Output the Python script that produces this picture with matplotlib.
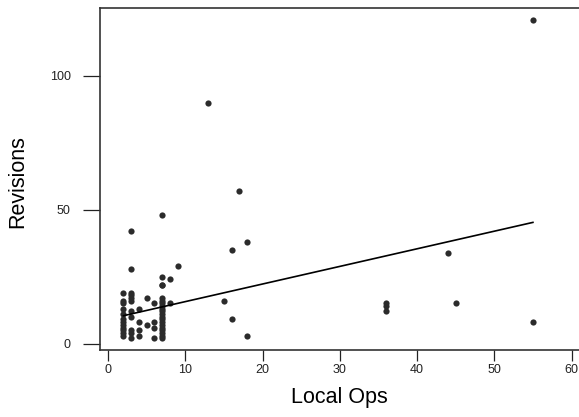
import numpy as np
import matplotlib
matplotlib.use('Agg')
import matplotlib.pyplot as plt

plt.rcParams['font.family'] = ['Liberation Sans', 'DejaVu Sans']

# local ops (x) and revisions (y)
local_ops = [2, 2, 2, 2, 2, 2, 2, 2, 2, 2, 2, 2,
             3, 3, 3, 3, 3, 3, 3, 3, 3, 3, 3,
             4, 4, 4, 4,
             5, 5,
             6, 6, 6, 6,
             7, 7, 7, 7, 7, 7, 7, 7, 7, 7, 7, 7, 7, 7, 7, 7, 7, 7, 7, 7,
             8, 8, 9,
             13, 15, 16, 16, 17, 18, 18,
             36, 36, 36, 44, 45, 55, 55]
revisions = [3, 4, 5, 6, 7, 8, 9, 11, 13, 15, 16, 19,
             2, 4, 5, 10, 12, 16, 17, 18, 19, 28, 42,
             3, 5, 8, 13,
             7, 17,
             2, 6, 8, 15,
             2, 3, 4, 5, 6, 7, 8, 9, 10, 11, 12, 13, 14, 15, 16, 17, 22, 22, 25, 48,
             15, 24, 29,
             90, 16, 9, 35, 57, 3, 38,
             12, 14, 15, 34, 15, 8, 121]

# fitted line
fit_x = [2, 55]
fit_intercept = 9.1
fit_slope = 0.658

fig = plt.figure(figsize=(5.79, 4.17), dpi=100)
ax = fig.add_axes([100 / 579, 67 / 417, 487 / 579, 342.5 / 417])

ax.scatter(local_ops, revisions, s=20, color='#2b2b2b', linewidths=0, zorder=3)
fx = np.array(fit_x)
ax.plot(fx, fit_intercept + fit_slope * fx, color='black', lw=1.2, zorder=4)

ax.set_xlim(-1.04, 62)
ax.set_ylim(-2.4, 125.6)
ax.set_xticks(np.arange(0, 61, 10))
ax.set_yticks([0, 50, 100])

for side in ['left', 'bottom', 'top', 'right']:
    ax.spines[side].set_color('#333333')
    ax.spines[side].set_linewidth(1.2)

ax.tick_params(axis='y', direction='out', length=12, width=0.9, pad=9,
               labelsize=9, colors='#222222')
ax.tick_params(axis='x', direction='out', length=8, width=0.9, pad=2,
               labelsize=9, colors='#222222')

fig.text(339 / 579, 1 - 397 / 417, 'Local Ops', fontsize=15.5,
         ha='center', va='center')
fig.text(18 / 579, 1 - 182 / 417, 'Revisions', fontsize=15.5,
         ha='center', va='center', rotation=90)

fig.savefig('out.png', dpi=100)
